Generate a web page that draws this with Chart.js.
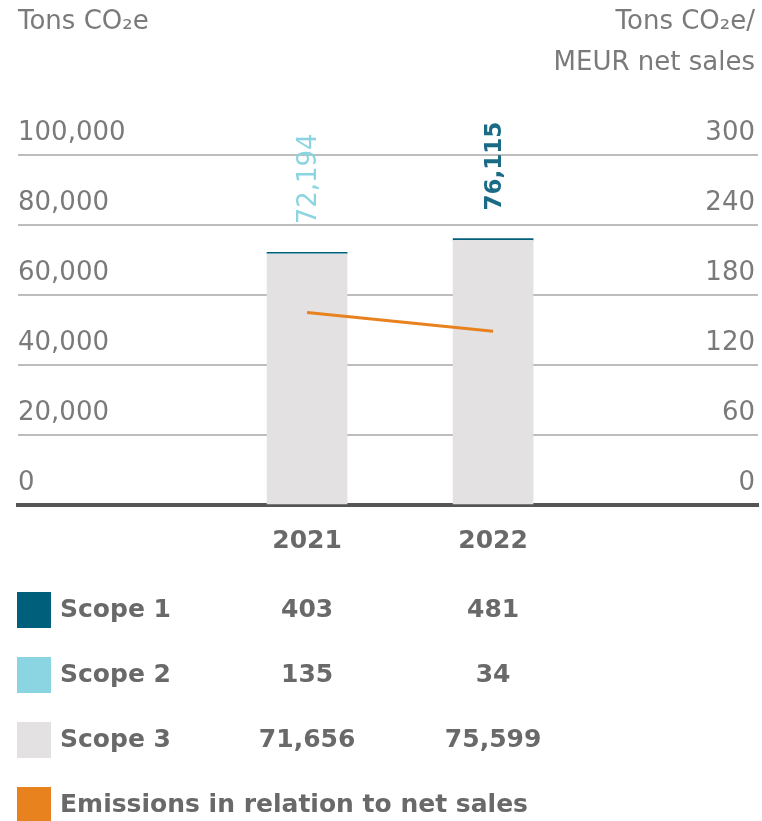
<!DOCTYPE html>
<html>
<head>
<meta charset="utf-8">
<script src="https://cdn.jsdelivr.net/npm/chart.js@4.4.0/dist/chart.umd.min.js"></script>
<style>
  html, body { margin: 0; padding: 0; background: #fff; }
  canvas { display: block; }
</style>
</head>
<body>
<canvas id="lienzo" width="762" height="821"></canvas>
<script>
// data
const years = [2021, 2022]
const scope1 = [403, 481]
const scope2 = [135, 34]
const scope3 = [71656, 75599]
const totals = [72194, 76115]
const intensity = [165, 149]
const leftTicks = [0, 20000, 40000, 60000, 80000, 100000]
const rightTicks = [0, 60, 120, 180, 240, 300]

const colScope1 = '#005f7a'
const colScope2 = '#8bd4e1'
const colScope3 = '#e3e1e2'
const colLine = '#e8821e'
const txtLight = '#7a7a7a'
const txtBold = '#696969'

const fontLight = '"DejaVu Sans", sans-serif'
const fontBold = '"DejaVu Sans", sans-serif'

const fmt = n => n.toLocaleString('en-US')
const pts = arr => years.map((y, i) => ({x: y, y: arr[i]}))

const extras = {
    id: 'extras',
    afterDraw(chart) {
        const ctx = chart.ctx
        const x = chart.scales.x
        const y = chart.scales.y
        ctx.save()

        // axis titles
        ctx.fillStyle = txtLight
        ctx.font = '26px ' + fontLight
        ctx.textBaseline = 'middle'
        ctx.textAlign = 'left'
        ctx.fillText('Tons CO\u2082e', 18, 22)
        ctx.textAlign = 'right'
        ctx.fillText('Tons CO\u2082e/', 755, 22)
        ctx.fillText('MEUR net sales', 755, 63)

        // totals, rotated above bars
        const lblStyle = [
            {color: colScope2, font: '26px ' + fontLight},
            {color: '#1a6b86', font: 'bold 23px ' + fontBold}
        ]
        years.forEach((yr, i) => {
            ctx.save()
            ctx.translate(x.getPixelForValue(yr) + 2, y.getPixelForValue(totals[i]) - 28)
            ctx.rotate(-Math.PI / 2)
            ctx.fillStyle = lblStyle[i].color
            ctx.font = lblStyle[i].font
            ctx.textAlign = 'left'
            ctx.textBaseline = 'middle'
            ctx.fillText(fmt(totals[i]), 0, 0)
            ctx.restore()
        })

        // legend table
        const rows = [
            {name: 'Scope 1', color: colScope1, vals: scope1, cy: 610},
            {name: 'Scope 2', color: colScope2, vals: scope2, cy: 675},
            {name: 'Scope 3', color: colScope3, vals: scope3, cy: 740},
            {name: 'Emissions in relation to net sales', color: colLine, vals: null, cy: 805}
        ]
        ctx.font = 'bold 25px ' + fontBold
        ctx.textBaseline = 'middle'
        rows.forEach(r => {
            ctx.fillStyle = r.color
            ctx.fillRect(17, r.cy - 18, 34, 36)
            ctx.fillStyle = txtBold
            ctx.textAlign = 'left'
            ctx.fillText(r.name, 60, r.cy)
            if (r.vals) {
                ctx.textAlign = 'center'
                r.vals.forEach((v, i) => ctx.fillText(fmt(v), x.getPixelForValue(years[i]), r.cy))
            }
        })
        ctx.restore()
    }
}

new Chart(document.getElementById('lienzo'), {
    type: 'bar',
    data: {
        datasets: [
            {label: 'Scope 3', data: pts(scope3), backgroundColor: colScope3, barThickness: 80, yAxisID: 'y', order: 2},
            {label: 'Scope 2', data: pts(scope2), backgroundColor: colScope2, barThickness: 80, yAxisID: 'y', order: 2},
            {label: 'Scope 1', data: pts(scope1), backgroundColor: colScope1, barThickness: 80, yAxisID: 'y', order: 2},
            {
                type: 'line', label: 'Emissions in relation to net sales', data: pts(intensity),
                borderColor: colLine, borderWidth: 3, pointRadius: 0, yAxisID: 'y1', order: 0
            }
        ]
    },
    options: {
        responsive: false,
        animation: false,
        locale: 'en-US',
        layout: {padding: {left: 18, right: 4, top: 155, bottom: 252}},
        plugins: {legend: {display: false}, tooltip: {enabled: false}},
        scales: {
            x: {
                type: 'linear', stacked: true, offset: false, min: 2019.446, max: 2023.424,
                grid: {display: false},
                border: {display: true, color: '#555555', width: 4},
                afterBuildTicks: s => { s.ticks = years.map(v => ({value: v})) },
                ticks: {
                    color: txtBold, padding: 13, maxRotation: 0,
                    font: {family: fontBold, size: 25, weight: 'bold'},
                    callback: v => String(v)
                }
            },
            y: {
                stacked: true, position: 'left', min: 0, max: 100000,
                border: {display: false},
                grid: {color: '#bdbdbd', lineWidth: 2, drawTicks: false},
                afterBuildTicks: s => { s.ticks = leftTicks.map(v => ({value: v})) },
                afterFit: s => { s.width = 0 },
                ticks: {
                    mirror: true, padding: 0, labelOffset: -22, color: txtLight,
                    font: {family: fontLight, size: 26}
                }
            },
            y1: {
                position: 'right', min: 0, max: 300,
                border: {display: false},
                grid: {display: false, drawTicks: false},
                afterBuildTicks: s => { s.ticks = rightTicks.map(v => ({value: v})) },
                afterFit: s => { s.width = 0 },
                ticks: {
                    mirror: true, padding: -3, labelOffset: -22, color: txtLight,
                    font: {family: fontLight, size: 26}
                }
            }
        }
    },
    plugins: [extras]
})
</script>
</body>
</html>
